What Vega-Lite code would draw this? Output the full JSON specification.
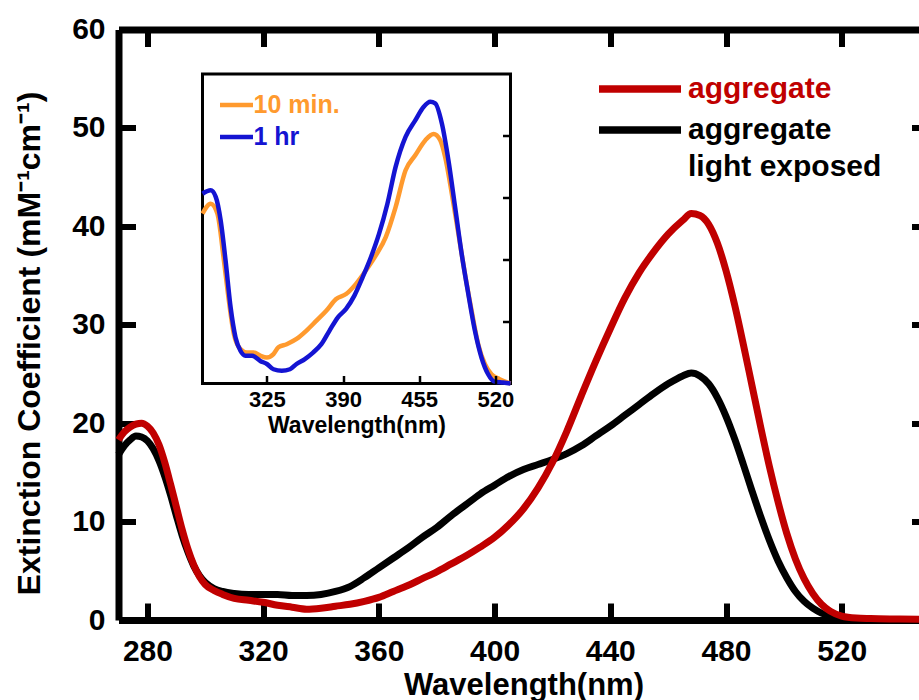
{
  "$schema": "https://vega.github.io/schema/vega-lite/v6.json",
  "width": 810,
  "height": 590.5,
  "autosize": {"type": "none"},
  "padding": {"left": 118.5, "top": 29.5, "right": -9.5, "bottom": 80},
  "background": "white",
  "config": {"view": {"stroke": null}, "font": "Liberation Sans", "axis": {"grid": false, "labelColor": "black", "titleColor": "black", "tickColor": "black", "domainColor": "black"}},
  "datasets": {
    "main": [
      {"series": "aggregate light exposed", "wl": 270, "ext": 16.8},
      {"series": "aggregate light exposed", "wl": 272, "ext": 17.7},
      {"series": "aggregate light exposed", "wl": 274, "ext": 18.3},
      {"series": "aggregate light exposed", "wl": 276, "ext": 18.7},
      {"series": "aggregate light exposed", "wl": 278, "ext": 18.6},
      {"series": "aggregate light exposed", "wl": 280, "ext": 18.2},
      {"series": "aggregate light exposed", "wl": 282, "ext": 17.4},
      {"series": "aggregate light exposed", "wl": 284, "ext": 16.2},
      {"series": "aggregate light exposed", "wl": 286, "ext": 14.6},
      {"series": "aggregate light exposed", "wl": 288, "ext": 12.7},
      {"series": "aggregate light exposed", "wl": 290, "ext": 10.6},
      {"series": "aggregate light exposed", "wl": 292, "ext": 8.6},
      {"series": "aggregate light exposed", "wl": 294, "ext": 6.9},
      {"series": "aggregate light exposed", "wl": 296, "ext": 5.5},
      {"series": "aggregate light exposed", "wl": 298, "ext": 4.5},
      {"series": "aggregate light exposed", "wl": 300, "ext": 3.8},
      {"series": "aggregate light exposed", "wl": 303, "ext": 3.2},
      {"series": "aggregate light exposed", "wl": 306, "ext": 2.9},
      {"series": "aggregate light exposed", "wl": 310, "ext": 2.7},
      {"series": "aggregate light exposed", "wl": 315, "ext": 2.6},
      {"series": "aggregate light exposed", "wl": 320, "ext": 2.6},
      {"series": "aggregate light exposed", "wl": 325, "ext": 2.6},
      {"series": "aggregate light exposed", "wl": 330, "ext": 2.5},
      {"series": "aggregate light exposed", "wl": 335, "ext": 2.5},
      {"series": "aggregate light exposed", "wl": 340, "ext": 2.6},
      {"series": "aggregate light exposed", "wl": 345, "ext": 2.9},
      {"series": "aggregate light exposed", "wl": 350, "ext": 3.4},
      {"series": "aggregate light exposed", "wl": 355, "ext": 4.3},
      {"series": "aggregate light exposed", "wl": 360, "ext": 5.3},
      {"series": "aggregate light exposed", "wl": 365, "ext": 6.3},
      {"series": "aggregate light exposed", "wl": 370, "ext": 7.3},
      {"series": "aggregate light exposed", "wl": 375, "ext": 8.4},
      {"series": "aggregate light exposed", "wl": 380, "ext": 9.4},
      {"series": "aggregate light exposed", "wl": 385, "ext": 10.6},
      {"series": "aggregate light exposed", "wl": 390, "ext": 11.7},
      {"series": "aggregate light exposed", "wl": 395, "ext": 12.8},
      {"series": "aggregate light exposed", "wl": 400, "ext": 13.7},
      {"series": "aggregate light exposed", "wl": 405, "ext": 14.6},
      {"series": "aggregate light exposed", "wl": 410, "ext": 15.3},
      {"series": "aggregate light exposed", "wl": 415, "ext": 15.8},
      {"series": "aggregate light exposed", "wl": 420, "ext": 16.3},
      {"series": "aggregate light exposed", "wl": 425, "ext": 16.9},
      {"series": "aggregate light exposed", "wl": 430, "ext": 17.7},
      {"series": "aggregate light exposed", "wl": 435, "ext": 18.7},
      {"series": "aggregate light exposed", "wl": 440, "ext": 19.7},
      {"series": "aggregate light exposed", "wl": 445, "ext": 20.8},
      {"series": "aggregate light exposed", "wl": 450, "ext": 21.9},
      {"series": "aggregate light exposed", "wl": 455, "ext": 23.0},
      {"series": "aggregate light exposed", "wl": 460, "ext": 24.0},
      {"series": "aggregate light exposed", "wl": 465, "ext": 24.8},
      {"series": "aggregate light exposed", "wl": 468, "ext": 25.1},
      {"series": "aggregate light exposed", "wl": 471, "ext": 24.8},
      {"series": "aggregate light exposed", "wl": 474, "ext": 24.0},
      {"series": "aggregate light exposed", "wl": 477, "ext": 22.6},
      {"series": "aggregate light exposed", "wl": 480, "ext": 20.7},
      {"series": "aggregate light exposed", "wl": 483, "ext": 18.4},
      {"series": "aggregate light exposed", "wl": 486, "ext": 15.8},
      {"series": "aggregate light exposed", "wl": 489, "ext": 13.1},
      {"series": "aggregate light exposed", "wl": 492, "ext": 10.5},
      {"series": "aggregate light exposed", "wl": 495, "ext": 8.1},
      {"series": "aggregate light exposed", "wl": 498, "ext": 6.0},
      {"series": "aggregate light exposed", "wl": 501, "ext": 4.3},
      {"series": "aggregate light exposed", "wl": 504, "ext": 2.9},
      {"series": "aggregate light exposed", "wl": 507, "ext": 1.9},
      {"series": "aggregate light exposed", "wl": 510, "ext": 1.2},
      {"series": "aggregate light exposed", "wl": 513, "ext": 0.7},
      {"series": "aggregate light exposed", "wl": 516, "ext": 0.4},
      {"series": "aggregate light exposed", "wl": 520, "ext": 0.2},
      {"series": "aggregate light exposed", "wl": 525, "ext": 0.1},
      {"series": "aggregate light exposed", "wl": 530, "ext": 0.05},
      {"series": "aggregate light exposed", "wl": 540, "ext": 0.0},
      {"series": "aggregate light exposed", "wl": 550, "ext": 0.0},
      {"series": "aggregate", "wl": 270, "ext": 18.3},
      {"series": "aggregate", "wl": 272, "ext": 19.1},
      {"series": "aggregate", "wl": 274, "ext": 19.6},
      {"series": "aggregate", "wl": 276, "ext": 19.9},
      {"series": "aggregate", "wl": 278, "ext": 20.0},
      {"series": "aggregate", "wl": 280, "ext": 19.7},
      {"series": "aggregate", "wl": 282, "ext": 19.0},
      {"series": "aggregate", "wl": 284, "ext": 17.8},
      {"series": "aggregate", "wl": 286, "ext": 16.0},
      {"series": "aggregate", "wl": 288, "ext": 13.8},
      {"series": "aggregate", "wl": 290, "ext": 11.5},
      {"series": "aggregate", "wl": 292, "ext": 9.2},
      {"series": "aggregate", "wl": 294, "ext": 7.2},
      {"series": "aggregate", "wl": 296, "ext": 5.6},
      {"series": "aggregate", "wl": 298, "ext": 4.4},
      {"series": "aggregate", "wl": 300, "ext": 3.6},
      {"series": "aggregate", "wl": 303, "ext": 3.0},
      {"series": "aggregate", "wl": 306, "ext": 2.6},
      {"series": "aggregate", "wl": 310, "ext": 2.2},
      {"series": "aggregate", "wl": 315, "ext": 2.0},
      {"series": "aggregate", "wl": 320, "ext": 1.8},
      {"series": "aggregate", "wl": 325, "ext": 1.5},
      {"series": "aggregate", "wl": 330, "ext": 1.3},
      {"series": "aggregate", "wl": 335, "ext": 1.1},
      {"series": "aggregate", "wl": 340, "ext": 1.2},
      {"series": "aggregate", "wl": 345, "ext": 1.4},
      {"series": "aggregate", "wl": 350, "ext": 1.6},
      {"series": "aggregate", "wl": 355, "ext": 1.9},
      {"series": "aggregate", "wl": 360, "ext": 2.3},
      {"series": "aggregate", "wl": 365, "ext": 2.9},
      {"series": "aggregate", "wl": 370, "ext": 3.5},
      {"series": "aggregate", "wl": 375, "ext": 4.2},
      {"series": "aggregate", "wl": 380, "ext": 4.9},
      {"series": "aggregate", "wl": 385, "ext": 5.7},
      {"series": "aggregate", "wl": 390, "ext": 6.5},
      {"series": "aggregate", "wl": 395, "ext": 7.4},
      {"series": "aggregate", "wl": 400, "ext": 8.4},
      {"series": "aggregate", "wl": 405, "ext": 9.7},
      {"series": "aggregate", "wl": 410, "ext": 11.3},
      {"series": "aggregate", "wl": 415, "ext": 13.4},
      {"series": "aggregate", "wl": 420, "ext": 16.0},
      {"series": "aggregate", "wl": 425, "ext": 19.2},
      {"series": "aggregate", "wl": 430, "ext": 22.8},
      {"series": "aggregate", "wl": 435, "ext": 26.3},
      {"series": "aggregate", "wl": 440, "ext": 29.6},
      {"series": "aggregate", "wl": 445, "ext": 32.7},
      {"series": "aggregate", "wl": 450, "ext": 35.3},
      {"series": "aggregate", "wl": 455, "ext": 37.4},
      {"series": "aggregate", "wl": 460, "ext": 39.2},
      {"series": "aggregate", "wl": 465, "ext": 40.6},
      {"series": "aggregate", "wl": 468, "ext": 41.3},
      {"series": "aggregate", "wl": 471, "ext": 41.1},
      {"series": "aggregate", "wl": 474, "ext": 40.2},
      {"series": "aggregate", "wl": 477, "ext": 38.3},
      {"series": "aggregate", "wl": 480, "ext": 35.5},
      {"series": "aggregate", "wl": 483, "ext": 32.0},
      {"series": "aggregate", "wl": 486, "ext": 28.0},
      {"series": "aggregate", "wl": 489, "ext": 23.8},
      {"series": "aggregate", "wl": 492, "ext": 19.6},
      {"series": "aggregate", "wl": 495, "ext": 15.6},
      {"series": "aggregate", "wl": 498, "ext": 12.0},
      {"series": "aggregate", "wl": 501, "ext": 8.8},
      {"series": "aggregate", "wl": 504, "ext": 6.2},
      {"series": "aggregate", "wl": 507, "ext": 4.2},
      {"series": "aggregate", "wl": 510, "ext": 2.7},
      {"series": "aggregate", "wl": 513, "ext": 1.6},
      {"series": "aggregate", "wl": 516, "ext": 0.9},
      {"series": "aggregate", "wl": 520, "ext": 0.4},
      {"series": "aggregate", "wl": 525, "ext": 0.2},
      {"series": "aggregate", "wl": 530, "ext": 0.15},
      {"series": "aggregate", "wl": 540, "ext": 0.1},
      {"series": "aggregate", "wl": 550, "ext": 0.05}
    ],
    "inset": [
      {"series": "10 min.", "wl": 270, "a": 0.549},
      {"series": "10 min.", "wl": 277, "a": 0.581},
      {"series": "10 min.", "wl": 282.7, "a": 0.549},
      {"series": "10 min.", "wl": 288.3, "a": 0.397},
      {"series": "10 min.", "wl": 292.5, "a": 0.268},
      {"series": "10 min.", "wl": 296.8, "a": 0.16},
      {"series": "10 min.", "wl": 302.4, "a": 0.111},
      {"series": "10 min.", "wl": 308, "a": 0.1},
      {"series": "10 min.", "wl": 313.7, "a": 0.1},
      {"series": "10 min.", "wl": 319.3, "a": 0.09},
      {"series": "10 min.", "wl": 325, "a": 0.084},
      {"series": "10 min.", "wl": 330.6, "a": 0.095},
      {"series": "10 min.", "wl": 334.8, "a": 0.117},
      {"series": "10 min.", "wl": 341.9, "a": 0.127},
      {"series": "10 min.", "wl": 350.3, "a": 0.144},
      {"series": "10 min.", "wl": 358.8, "a": 0.171},
      {"series": "10 min.", "wl": 367.3, "a": 0.203},
      {"series": "10 min.", "wl": 375.7, "a": 0.235},
      {"series": "10 min.", "wl": 384.1, "a": 0.273},
      {"series": "10 min.", "wl": 392.6, "a": 0.289},
      {"series": "10 min.", "wl": 401.1, "a": 0.322},
      {"series": "10 min.", "wl": 409.5, "a": 0.365},
      {"series": "10 min.", "wl": 418, "a": 0.414},
      {"series": "10 min.", "wl": 426.5, "a": 0.473},
      {"series": "10 min.", "wl": 434.9, "a": 0.57},
      {"series": "10 min.", "wl": 443.4, "a": 0.689},
      {"series": "10 min.", "wl": 451.8, "a": 0.738},
      {"series": "10 min.", "wl": 460.3, "a": 0.786},
      {"series": "10 min.", "wl": 467.3, "a": 0.806},
      {"series": "10 min.", "wl": 473, "a": 0.786},
      {"series": "10 min.", "wl": 477.2, "a": 0.732},
      {"series": "10 min.", "wl": 482.9, "a": 0.613},
      {"series": "10 min.", "wl": 488.5, "a": 0.484},
      {"series": "10 min.", "wl": 494.1, "a": 0.354},
      {"series": "10 min.", "wl": 499.8, "a": 0.235},
      {"series": "10 min.", "wl": 505.4, "a": 0.127},
      {"series": "10 min.", "wl": 511.1, "a": 0.063},
      {"series": "10 min.", "wl": 516.7, "a": 0.03},
      {"series": "10 min.", "wl": 523.7, "a": 0.014},
      {"series": "10 min.", "wl": 533, "a": 0.0},
      {"series": "1 hr", "wl": 270, "a": 0.613},
      {"series": "1 hr", "wl": 277, "a": 0.624},
      {"series": "1 hr", "wl": 281.3, "a": 0.603},
      {"series": "1 hr", "wl": 285.5, "a": 0.527},
      {"series": "1 hr", "wl": 289.7, "a": 0.397},
      {"series": "1 hr", "wl": 294, "a": 0.246},
      {"series": "1 hr", "wl": 298.2, "a": 0.149},
      {"series": "1 hr", "wl": 302.4, "a": 0.106},
      {"series": "1 hr", "wl": 306.6, "a": 0.09},
      {"series": "1 hr", "wl": 312.3, "a": 0.09},
      {"series": "1 hr", "wl": 319.3, "a": 0.073},
      {"series": "1 hr", "wl": 325, "a": 0.063},
      {"series": "1 hr", "wl": 330.6, "a": 0.046},
      {"series": "1 hr", "wl": 337.7, "a": 0.041},
      {"series": "1 hr", "wl": 344.7, "a": 0.046},
      {"series": "1 hr", "wl": 350.3, "a": 0.063},
      {"series": "1 hr", "wl": 357.4, "a": 0.079},
      {"series": "1 hr", "wl": 364.4, "a": 0.1},
      {"series": "1 hr", "wl": 371.5, "a": 0.127},
      {"series": "1 hr", "wl": 378.5, "a": 0.171},
      {"series": "1 hr", "wl": 385.6, "a": 0.214},
      {"series": "1 hr", "wl": 392.6, "a": 0.241},
      {"series": "1 hr", "wl": 399.7, "a": 0.284},
      {"series": "1 hr", "wl": 406.7, "a": 0.343},
      {"series": "1 hr", "wl": 413.8, "a": 0.408},
      {"series": "1 hr", "wl": 420.8, "a": 0.484},
      {"series": "1 hr", "wl": 427.9, "a": 0.581},
      {"series": "1 hr", "wl": 434.9, "a": 0.7},
      {"series": "1 hr", "wl": 443.4, "a": 0.797},
      {"series": "1 hr", "wl": 451.8, "a": 0.851},
      {"series": "1 hr", "wl": 458.9, "a": 0.894},
      {"series": "1 hr", "wl": 464.5, "a": 0.91},
      {"series": "1 hr", "wl": 468.7, "a": 0.905},
      {"series": "1 hr", "wl": 474.4, "a": 0.84},
      {"series": "1 hr", "wl": 480, "a": 0.721},
      {"series": "1 hr", "wl": 485.7, "a": 0.57},
      {"series": "1 hr", "wl": 491.3, "a": 0.419},
      {"series": "1 hr", "wl": 497, "a": 0.289},
      {"series": "1 hr", "wl": 502.6, "a": 0.171},
      {"series": "1 hr", "wl": 508.2, "a": 0.084},
      {"series": "1 hr", "wl": 513.9, "a": 0.03},
      {"series": "1 hr", "wl": 519.5, "a": 0.006},
      {"series": "1 hr", "wl": 526.5, "a": 0.003},
      {"series": "1 hr", "wl": 533, "a": 0.0}
    ]
  },
  "layer": [
    {
      "data": {"name": "main"},
      "transform": [{"filter": "datum.series === 'aggregate light exposed'"}],
      "mark": {"type": "line", "strokeWidth": 7, "interpolate": "monotone"},
      "encoding": {
        "x": {"field": "wl", "type": "quantitative",
          "scale": {"domain": [270, 550], "nice": false, "zero": false},
          "axis": {"orient": "bottom", "values": [280, 320, 360, 400, 440, 480, 520], "tickSize": -17, "tickWidth": 6, "domainWidth": 7,
            "labelFont": "Liberation Sans", "labelFontSize": 30, "labelFontWeight": "bold", "labelPadding": 33, "labelFlush": false, "labelOverlap": false,
            "title": "Wavelength(nm)", "titleFont": "Liberation Sans", "titleFontSize": 31, "titleFontWeight": "bold", "titlePadding": 4}},
        "y": {"field": "ext", "type": "quantitative",
          "scale": {"domain": [0, 60], "nice": false, "zero": false},
          "axis": {"orient": "left", "values": [0, 10, 20, 30, 40, 50, 60], "tickSize": -17, "tickWidth": 6, "domainWidth": 7,
            "labelFont": "Liberation Sans", "labelFontSize": 30, "labelFontWeight": "bold", "labelPadding": 30.5, "labelFlush": false, "labelOverlap": false,
            "title": "Extinction Coefficient (mM⁻¹cm⁻¹)", "titleFont": "Liberation Sans", "titleFontSize": 32, "titleFontWeight": "bold", "titlePadding": 25, "titleY": 313.5}},
        "color": {"field": "series", "type": "nominal",
          "scale": {"domain": ["aggregate light exposed"], "range": ["#000000"]},
          "legend": {"orient": "none", "legendX": 476.5, "legendY": 55.5, "title": null, "padding": 0,
            "symbolType": "stroke", "symbolSize": 6724, "symbolStrokeWidth": 7.5,
            "labelFont": "Liberation Sans", "labelFontSize": 30, "labelFontWeight": "bold", "labelOffset": 3, "labelLimit": 500, "labelColor": "#000000",
            "labelExpr": "'aggregate'"}}
      }
    },
    {
      "data": {"name": "main"},
      "transform": [{"filter": "datum.series === 'aggregate'"}],
      "mark": {"type": "line", "strokeWidth": 7, "interpolate": "monotone"},
      "encoding": {
        "x": {"field": "wl", "type": "quantitative",
          "scale": {"domain": [270, 550], "nice": false, "zero": false},
          "axis": {"orient": "top", "values": [280, 320, 360, 400, 440, 480, 520], "tickSize": -17, "tickWidth": 6, "domainWidth": 7, "labels": false, "title": null}},
        "y": {"field": "ext", "type": "quantitative",
          "scale": {"domain": [0, 60], "nice": false, "zero": false},
          "axis": {"orient": "right", "values": [0, 10, 20, 30, 40, 50, 60], "tickSize": -17, "tickWidth": 6, "domainWidth": 7, "labels": false, "title": null}},
        "color": {"field": "series", "type": "nominal",
          "scale": {"domain": ["aggregate"], "range": ["#c00000"]},
          "legend": {"orient": "none", "legendX": 476.5, "legendY": 14.5, "title": null, "padding": 0,
            "symbolType": "stroke", "symbolSize": 6724, "symbolStrokeWidth": 7.5,
            "labelFont": "Liberation Sans", "labelFontSize": 30, "labelFontWeight": "bold", "labelOffset": 3, "labelLimit": 500, "labelColor": "#c00000"}}
      }
    },
    {
      "data": {"name": "main"},
      "mark": {"type": "line", "strokeOpacity": 0},
      "encoding": {
        "x": {"field": "wl", "type": "quantitative", "scale": {"domain": [270, 550], "nice": false, "zero": false}, "axis": null},
        "y": {"field": "ext", "type": "quantitative", "scale": {"domain": [0, 60], "nice": false, "zero": false}, "axis": null},
        "detail": {"field": "series"},
        "color": {"datum": "light exposed", "type": "nominal",
          "scale": {"domain": ["light exposed"], "range": ["transparent"]},
          "legend": {"orient": "none", "legendX": 476.5, "legendY": 92.2, "title": null, "padding": 0,
            "symbolType": "stroke", "symbolSize": 6724, "symbolStrokeWidth": 7.5, "symbolStrokeColor": "transparent",
            "labelFont": "Liberation Sans", "labelFontSize": 30, "labelFontWeight": "bold", "labelOffset": 3, "labelLimit": 500, "labelColor": "#000000"}}
      }
    },
    {
      "data": {"values": [{}]},
      "mark": {"type": "rect", "fill": "white", "stroke": "black", "strokeWidth": 3},
      "encoding": {
        "x": {"datum": 270, "type": "quantitative", "scale": {"domain": [270, 533], "range": [84, 392], "nice": false, "zero": false}, "axis": null},
        "x2": {"datum": 533},
        "y": {"datum": 0, "type": "quantitative", "scale": {"domain": [0, 1], "range": [354, 44.5], "nice": false, "zero": false}, "axis": null},
        "y2": {"datum": 1}
      }
    },
    {
      "data": {"name": "inset"},
      "mark": {"type": "line", "strokeWidth": 4.5, "interpolate": "monotone"},
      "encoding": {
        "x": {"field": "wl", "type": "quantitative",
          "scale": {"domain": [270, 533], "range": [84, 392], "nice": false, "zero": false},
          "axis": {"orient": "bottom", "offset": -236.5, "zindex": 2, "values": [325, 390, 455, 520], "tickSize": -8, "tickWidth": 2.5, "domain": false,
            "labelFont": "Liberation Sans", "labelFontSize": 22, "labelFontWeight": "bold", "labelPadding": 14, "labelFlush": false, "labelOverlap": false,
            "title": "Wavelength(nm)", "titleFont": "Liberation Sans", "titleFontSize": 23, "titleFontWeight": "bold", "titlePadding": 3.5}},
        "y": {"field": "a", "type": "quantitative",
          "scale": {"domain": [0, 1], "range": [354, 44.5], "nice": false, "zero": false},
          "axis": {"orient": "right", "offset": -418, "zindex": 2, "values": [0.2, 0.4, 0.6, 0.8], "tickSize": -8, "tickWidth": 2.5, "domain": false, "labels": false, "title": null}},
        "color": {"field": "series", "type": "nominal",
          "scale": {"domain": ["10 min.", "1 hr"], "range": ["#ff9a2e", "#1414d2"]},
          "legend": {"orient": "none", "legendX": 99, "legendY": 56.5, "title": null, "padding": 0,
            "symbolType": "stroke", "symbolSize": 1089, "symbolStrokeWidth": 4.5,
            "labelFont": "Liberation Sans", "labelFontSize": 25, "labelFontWeight": "bold", "labelOffset": -2, "labelLimit": 300, "rowPadding": -1.5,
            "encode": {"labels": {"update": {"fill": {"signal": "datum.value === '10 min.' ? '#ff9a2e' : '#1414d2'"}}}}}}
      }
    }
  ],
  "resolve": {"scale": {"x": "independent", "y": "independent", "color": "independent"}}
}
